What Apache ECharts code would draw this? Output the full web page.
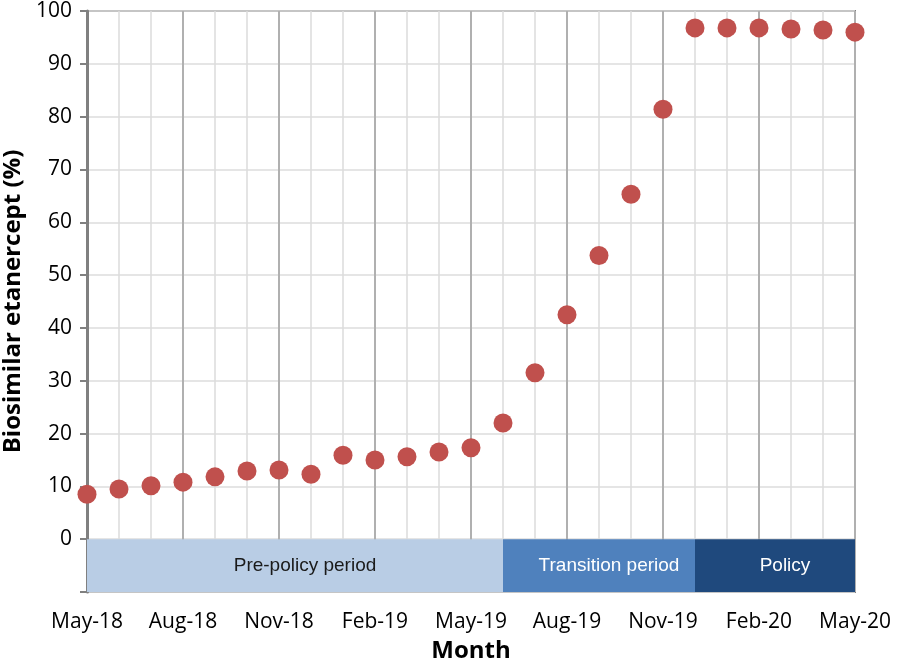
<!DOCTYPE html>
<html>
<head>
<meta charset="utf-8">
<script src="https://cdn.jsdelivr.net/npm/echarts@6/dist/echarts.min.js"></script>
<style>
  html, body { margin: 0; padding: 0; background: #fff; }
  #chart { width: 904px; height: 664px; }
</style>
</head>
<body>
<div id="chart"></div>
<script>
// months, one per point
var months = ['May-18','Jun-18','Jul-18','Aug-18','Sep-18','Oct-18','Nov-18','Dec-18',
  'Jan-19','Feb-19','Mar-19','Apr-19','May-19','Jun-19','Jul-19','Aug-19','Sep-19',
  'Oct-19','Nov-19','Dec-19','Jan-20','Feb-20','Mar-20','Apr-20','May-20'];

// biosimilar share (%)
var share = [8.5, 9.5, 10.1, 10.8, 11.8, 12.9, 13.1, 12.3, 15.9, 15.0, 15.6, 16.5, 17.3,
  22.0, 31.5, 42.5, 53.7, 65.3, 81.4, 96.8, 96.8, 96.8, 96.6, 96.4, 96.0];

var yTicks = [0, 10, 20, 30, 40, 50, 60, 70, 80, 90, 100];

// period bands (month index)
var periodNames = ['Pre-policy period', 'Transition period', 'Policy'];
var periodStart = [0, 13, 19];
var periodEnd = [13, 19, 24];
var periodColors = ['#b9cde5', '#4f81bd', '#1f497d'];
var periodText = ['#1a1a1a', '#ffffff', '#ffffff'];

var points = share.map(function (v, i) { return [i, v]; });

var bands = periodNames.map(function (n, i) {
  return [
    { name: n, xAxis: periodStart[i], yAxis: -10,
      itemStyle: { color: periodColors[i] },
      label: { color: periodText[i] } },
    { xAxis: periodEnd[i], yAxis: 0 }
  ];
});

var chart = echarts.init(document.getElementById('chart'));
chart.setOption({
  animation: false,
  grid: { left: 87, right: 49, top: 11, bottom: 72, show: true, outerBoundsMode: 'none',
    borderColor: '#808080', borderWidth: 2, backgroundColor: 'transparent' },
  xAxis: {
    type: 'value', min: 0, max: months.length - 1, interval: 3,
    name: 'Month', nameLocation: 'middle', nameGap: 47,
    nameTextStyle: { fontFamily: 'Open Sans', fontWeight: 'bold', fontSize: 24, color: '#000' },
    axisLine: { show: false },
    axisTick: { show: false },
    axisLabel: { margin: 20, fontFamily: 'Open Sans', fontSize: 21, color: '#000',
      formatter: function (v) { return months[v] || ''; } },
    splitLine: { show: true, lineStyle: { color: '#b0b0b0', width: 2 } },
    minorTick: { show: false, splitNumber: 3 },
    minorSplitLine: { show: true, lineStyle: { color: '#dcdcdc', width: 1.5 } }
  },
  yAxis: {
    type: 'value', min: -10, max: 100, interval: 10,
    name: 'Biosimilar etanercept (%)', nameLocation: 'middle', nameGap: 60,
    nameTextStyle: { fontFamily: 'Open Sans', fontWeight: 'bold', fontSize: 24, color: '#000' },
    axisLine: { show: true, lineStyle: { color: '#808080', width: 3 } },
    axisTick: { show: true, length: 7, lineStyle: { color: '#808080', width: 2 } },
    axisLabel: { margin: 15, fontFamily: 'Open Sans', fontSize: 21, color: '#000',
      formatter: function (v) { return yTicks.indexOf(v) >= 0 ? String(v) : ''; } },
    splitLine: { show: true, lineStyle: { color: '#dcdcdc', width: 1.5 } }
  },
  series: [{
    type: 'scatter',
    data: points,
    symbolSize: 19,
    itemStyle: { color: '#c0504d', opacity: 1 },
    z: 5,
    markArea: {
      silent: true,
      label: { show: true, position: 'inside', fontFamily: 'Liberation Sans', fontSize: 19, offset: [10, 0] },
      data: bands
    }
  }]
});
</script>
</body>
</html>
